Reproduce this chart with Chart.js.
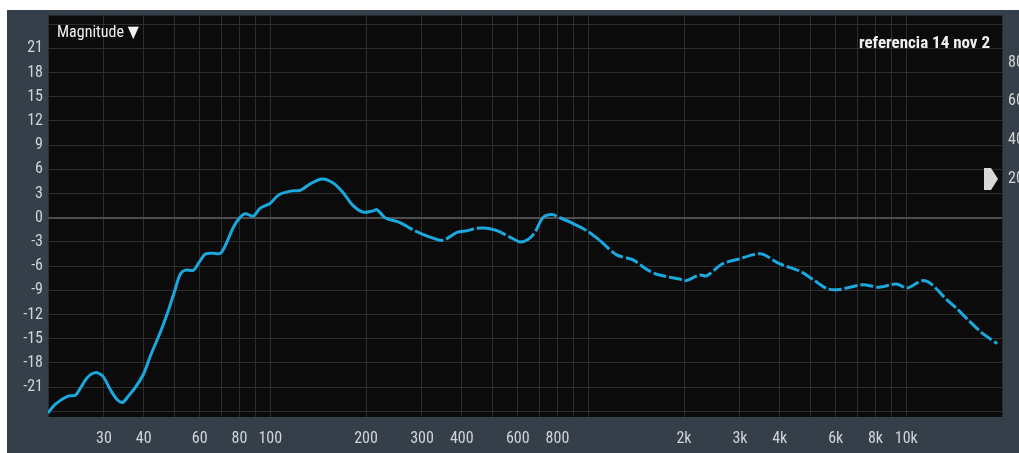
<!DOCTYPE html>
<html>
<head>
<meta charset="utf-8">
<script src="https://cdn.jsdelivr.net/npm/chart.js@4.4.1/dist/chart.umd.min.js"></script>
<style>
  html, body { margin: 0; padding: 0; background: #ffffff; overflow: hidden; }
  #wrap { width: 1019px; height: 453px; position: relative; }
</style>
</head>
<body>
<div id="wrap"><canvas id="c" width="1019" height="453"></canvas></div>
<script>
// Measured magnitude response (Hz, dB)
const freqs = [
  20, 21.1, 23.1, 24.4, 25.3, 26.6, 28.2, 29.7, 31.5, 33.1, 34.3, 35.8, 37.7, 39.9,
  42.0, 45.2, 47.9, 50.3, 52.1, 54.1, 57.3, 59.8, 62.5, 65.8, 69.7, 72.3, 76.5, 80.5,
  83.5, 88.5, 93.0, 100, 106, 115.6, 124.3, 133.5, 145.6, 157.8, 169.5, 182.2, 195.9,
  210.5, 216.8, 229.6, 255.9, 281.2, 317.9, 349.1, 386.4, 415.5, 446.7, 480.2, 516.2,
  567.3, 609.9, 645.9, 679.6, 719.5, 767.9, 814.7, 893.8, 988.6, 1086, 1228, 1379,
  1527, 1641, 1938, 2024, 2239, 2355, 2645, 2990, 3283, 3530, 3992, 4613, 5070, 5650,
  6162, 7278, 8224, 9306, 10070, 11220, 11970, 13360, 14360, 15780, 17330, 19320
];
const magnitude = [
  -24.2, -23.1, -22.1, -22.0, -21.1, -19.8, -19.2, -19.6, -21.4, -22.6, -22.9, -22.1, -21.0, -19.4,
  -17.1, -14.1, -11.4, -8.8, -7.0, -6.5, -6.5, -5.5, -4.5, -4.4, -4.4, -3.4, -1.2, 0.1,
  0.5, 0.2, 1.2, 1.8, 2.8, 3.3, 3.4, 4.2, 4.8, 4.3, 3.1, 1.5, 0.7,
  0.85, 1.0, 0.0, -0.6, -1.5, -2.4, -2.8, -1.8, -1.6, -1.3, -1.3, -1.6,
  -2.4, -3.0, -2.7, -1.8, 0.0, 0.4, 0.0, -0.7, -1.6, -2.8, -4.6, -5.2,
  -6.4, -7.0, -7.6, -7.8, -7.1, -7.2, -5.7, -5.1, -4.6, -4.5, -5.7, -6.6, -7.6, -8.8,
  -8.9, -8.3, -8.6, -8.2, -8.7, -7.8, -8.2, -10.1, -11.2, -12.8, -14.3, -15.6
];

// Frequency grid and labels
const gridFreqs = [
  20, 30, 40, 50, 60, 70, 80, 90, 100,
  200, 300, 400, 500, 600, 700, 800, 900, 1000,
  2000, 3000, 4000, 5000, 6000, 7000, 8000, 9000, 10000, 20000
];
const freqLabelValues = [30, 40, 60, 80, 100, 200, 300, 400, 600, 800, 2000, 3000, 4000, 6000, 8000, 10000];
const freqLabelTexts  = ['30', '40', '60', '80', '100', '200', '300', '400', '600', '800', '2k', '3k', '4k', '6k', '8k', '10k'];

// dB grid and labels
const dbGrid = [-24, -21, -18, -15, -12, -9, -6, -3, 0, 3, 6, 9, 12, 15, 18, 21, 24];
const dbLabels = [-21, -18, -15, -12, -9, -6, -3, 0, 3, 6, 9, 12, 15, 18, 21];

// Right-hand level scale
const levelTicks = [20, 40, 60, 80];
const levelMarker = 20;

const panelTitle = 'Magnitude \u25BC';
const traceName = 'referencia 14 nov 2';

const FONT = "'Liberation Sans Narrow', 'Roboto Condensed', 'DejaVu Sans Condensed', 'Liberation Sans', sans-serif";
const PANEL = '#353f4a';
const PLOT_BG = '#0b0b0b';
const GRID = '#2d2d2d';
const ZERO = '#4e4e4e';
const LABEL = '#d2d4d6';
const TRACE = '#1aa8de';

const framePlugin = {
  id: 'frame',
  beforeDraw(chart) {
    const { ctx, chartArea: a } = chart;
    ctx.save();
    ctx.fillStyle = '#ffffff';
    ctx.fillRect(0, 0, chart.width, chart.height);
    ctx.fillStyle = PANEL;
    ctx.fillRect(7, 10, chart.width - 7, chart.height - 10);
    ctx.fillStyle = PLOT_BG;
    ctx.fillRect(a.left, a.top, a.right - a.left, a.bottom - a.top);
    ctx.restore();
  },
  afterDraw(chart) {
    const { ctx, chartArea: a } = chart;
    ctx.save();
    // panel caption and trace name
    ctx.fillStyle = '#f0f0f0';
    ctx.textBaseline = 'middle';
    ctx.font = "16px " + FONT;
    ctx.textAlign = 'left';
    ctx.fillText(panelTitle, a.left + 9, 33);
    ctx.font = "bold 17px " + FONT;
    ctx.textAlign = 'right';
    ctx.fillText(traceName, a.right - 12, 44);
    // level marker on the right scale
    const y = chart.scales.y2.getPixelForValue(levelMarker);
    const x0 = a.right - 18, x1 = a.right - 11, x2 = a.right - 4;
    ctx.fillStyle = '#d9d9d9';
    ctx.beginPath();
    ctx.moveTo(x0, y - 11);
    ctx.lineTo(x1, y - 11);
    ctx.lineTo(x2, y);
    ctx.lineTo(x1, y + 11);
    ctx.lineTo(x0, y + 11);
    ctx.closePath();
    ctx.fill();
    ctx.restore();
  }
};

new Chart(document.getElementById('c'), {
  type: 'line',
  data: {
    datasets: [{
      label: traceName,
      data: freqs.map((f, i) => ({ x: f, y: magnitude[i] })),
      borderColor: TRACE,
      borderWidth: 3,
      pointRadius: 0,
      tension: 0.3,
      fill: false,
      segment: {
        borderDash: c => c.p0.parsed.x >= 1000 ? [13, 3] : (c.p0.parsed.x >= 220 ? [30, 3] : undefined)
      }
    }]
  },
  options: {
    responsive: false,
    devicePixelRatio: 1,
    animation: false,
    layout: { padding: { top: 10, left: 7, right: 0, bottom: 0 } },
    plugins: { legend: { display: false }, tooltip: { enabled: false } },
    scales: {
      x: {
        type: 'logarithmic',
        min: 20,
        max: 20000,
        afterBuildTicks: s => { s.ticks = gridFreqs.map(v => ({ value: v })); },
        afterFit: s => { s.height = 36; },
        border: { display: false },
        grid: { color: GRID, lineWidth: 1, drawTicks: false },
        ticks: {
          autoSkip: false,
          maxRotation: 0,
          padding: 12,
          color: LABEL,
          font: { family: FONT, size: 16 },
          callback: v => {
            const i = freqLabelValues.indexOf(v);
            return i >= 0 ? freqLabelTexts[i] : '';
          }
        }
      },
      y: {
        position: 'left',
        min: -24.7,
        max: 25.06,
        afterBuildTicks: s => { s.ticks = dbGrid.map(v => ({ value: v })); },
        afterFit: s => { s.width = 41; },
        border: { display: false },
        grid: {
          drawTicks: false,
          color: c => c.tick && c.tick.value === 0 ? ZERO : GRID,
          lineWidth: c => c.tick && c.tick.value === 0 ? 2 : 1
        },
        ticks: {
          padding: 5,
          color: LABEL,
          font: { family: FONT, size: 16 },
          callback: v => dbLabels.includes(v) ? String(v) : ''
        }
      },
      y2: {
        position: 'right',
        min: -102.8,
        max: 104.3,
        afterBuildTicks: s => { s.ticks = levelTicks.map(v => ({ value: v })); },
        afterFit: s => { s.width = 17; },
        border: { display: false },
        grid: { display: false, drawTicks: false },
        ticks: {
          padding: 6,
          color: LABEL,
          font: { family: FONT, size: 16 },
          callback: v => String(v)
        }
      }
    }
  },
  plugins: [framePlugin]
});
</script>
</body>
</html>
